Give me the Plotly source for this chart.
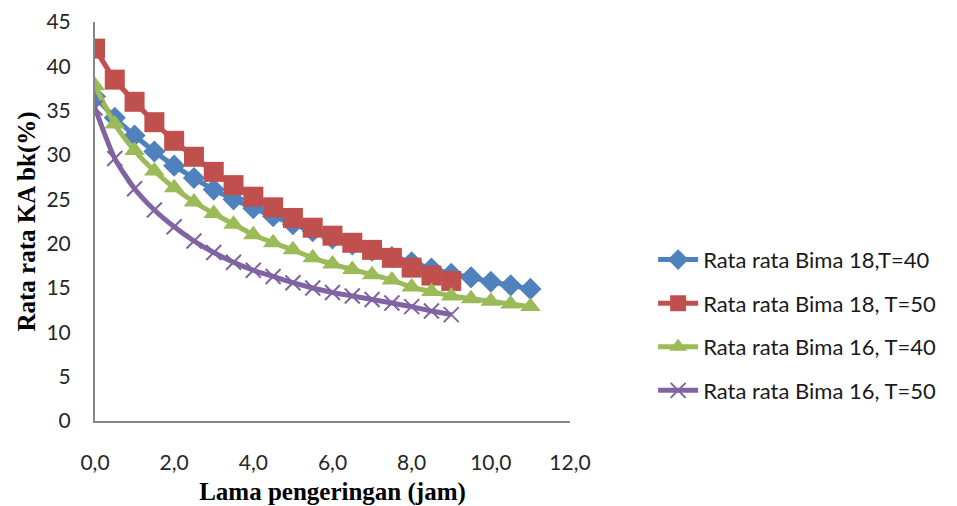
import plotly.graph_objects as go

x_long = [0, 0.5, 1, 1.5, 2, 2.5, 3, 3.5, 4, 4.5, 5, 5.5, 6, 6.5, 7, 7.5, 8, 8.5, 9, 9.5, 10, 10.5, 11]
x_short = [0, 0.5, 1, 1.5, 2, 2.5, 3, 3.5, 4, 4.5, 5, 5.5, 6, 6.5, 7, 7.5, 8, 8.5, 9]

bima18_t40 = [36.6, 34.2, 32.2, 30.4, 28.8, 27.4, 26.1, 25.0, 24.0, 23.1, 22.2, 21.4, 20.6, 19.9,
              19.2, 18.5, 17.9, 17.2, 16.6, 16.2, 15.7, 15.3, 14.9]
bima18_t50 = [42.0, 38.5, 36.0, 33.7, 31.6, 29.8, 28.1, 26.6, 25.3, 24.1, 22.9, 21.8, 20.9, 20.1,
              19.3, 18.4, 17.3, 16.4, 15.8]
bima16_t40 = [37.8, 33.5, 30.5, 28.2, 26.3, 24.7, 23.4, 22.2, 21.0, 20.1, 19.3, 18.4, 17.7, 17.1,
              16.5, 15.9, 15.1, 14.6, 14.1, 13.8, 13.5, 13.2, 12.9]
bima16_t50 = [35.3, 29.6, 26.2, 23.8, 21.9, 20.3, 19.0, 17.9, 17.0, 16.3, 15.6, 15.0, 14.5, 14.1,
              13.7, 13.3, 12.9, 12.4, 12.0]

names = ["Rata rata Bima 18,T=40", "Rata rata Bima 18, T=50",
         "Rata rata Bima 16, T=40", "Rata rata Bima 16, T=50"]
x_ticks = [0, 2, 4, 6, 8, 10, 12]
y_ticks = [0, 5, 10, 15, 20, 25, 30, 35, 40, 45]

fig = go.Figure()
series = [
    (x_long, bima18_t40, "#4F81BD", "diamond", 17, 0),
    (x_short, bima18_t50, "#C0504D", "square", 20, 0),
    (x_long, bima16_t40, "#9BBB59", "triangle-up", 18, 0),
    (x_short, bima16_t50, "#8064A2", "x-thin", 15, 2),
]
for i, (xs, ys, col, sym, sz, lw) in enumerate(series):
    fig.add_trace(go.Scatter(
        x=xs, y=ys, name=names[i], mode="lines+markers", legendgroup=str(i),
        line=dict(color=col, width=5, shape="spline", smoothing=0.6),
        marker=dict(symbol=sym, size=sz, color=col, line=dict(color=col, width=lw)),
    ))

tick_font = dict(family="Lato, Carlito, sans-serif", size=21, color="#262626")
title_font = dict(family="Liberation Serif, Times New Roman, serif", size=25, color="#000")

fig.update_layout(
    width=957, height=506,
    margin=dict(l=95, r=387, t=22, b=85),
    paper_bgcolor="white", plot_bgcolor="white",
    separators=",.",
    font=dict(family="Lato, Carlito, sans-serif", size=21, color="#262626"),
    showlegend=True,
    legend=dict(x=1.175, y=0.24, xanchor="left", yanchor="middle",
                font=dict(size=22, family="Lato, Carlito, sans-serif", color="#1a1a1a"),
                tracegroupgap=12, itemwidth=40, bgcolor="rgba(0,0,0,0)"),
    xaxis=dict(range=[0, 12], tickvals=x_ticks, tickformat=".1f", tickfont=tick_font,
               automargin=False,
               showline=True, linecolor="#868686", linewidth=2, showgrid=False,
               zeroline=False, ticks="outside", ticklen=22, tickcolor="rgba(0,0,0,0)",
               title=dict(text="<b>Lama pengeringan (jam)</b>", standoff=14, font=title_font)),
    yaxis=dict(range=[0, 45], tickvals=y_ticks, tickfont=tick_font,
               automargin=False,
               showline=True, linecolor="#868686", linewidth=2, showgrid=False,
               zeroline=False, ticks="outside", ticklen=18, tickcolor="rgba(0,0,0,0)",
               title=dict(text="<b>Rata rata KA bk(%)</b>", standoff=4, font=title_font)),
)

fig.write_html("out.html")
